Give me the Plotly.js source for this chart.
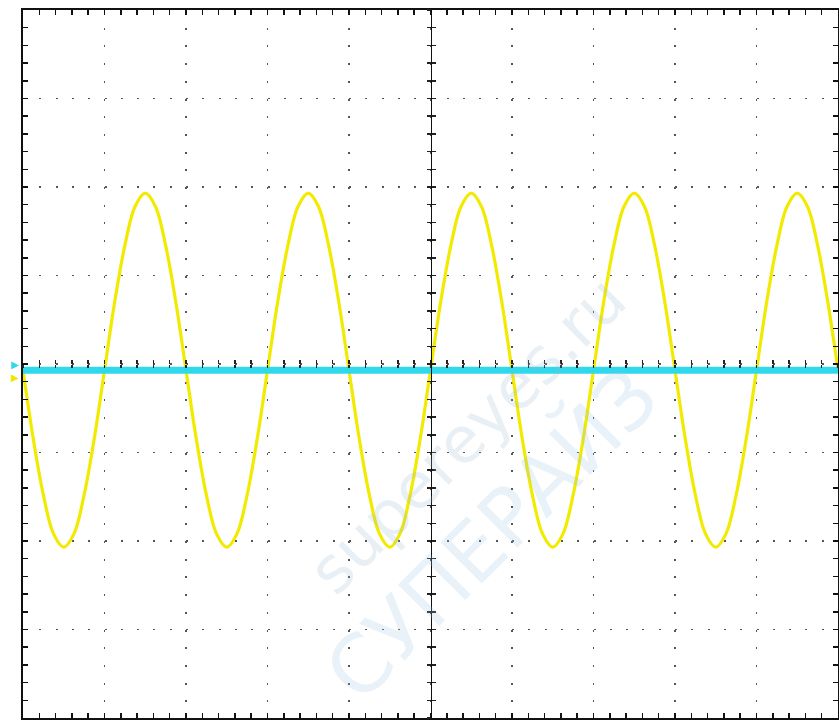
<!DOCTYPE html>
<html>
<head>
<meta charset="utf-8">
<script src="https://cdn.plot.ly/plotly-3.0.1.min.js"></script>
<style>html,body{margin:0;padding:0;background:#fff;}#chart{width:839px;height:722px;}</style>
</head>
<body>
<div id="chart"></div>
<script>
// Screen in divisions: 10 horizontal x 8 vertical, centre at (0,0)
var sampleStart = -5;      // first sample (div)
var sampleStep = 0.125;    // sample spacing (div)

// Channel 1 (yellow), in divisions
var ch1Values = [
  -0.07, -0.84, -1.48, -1.92, -2.07, -1.92, -1.48, -0.84, -0.07, 0.70, 1.34, 1.78, 1.93, 1.78, 1.34, 0.70,
  -0.07, -0.84, -1.48, -1.92, -2.07, -1.92, -1.48, -0.84, -0.07, 0.70, 1.34, 1.78, 1.93, 1.78, 1.34, 0.70,
  -0.07, -0.84, -1.48, -1.92, -2.07, -1.92, -1.48, -0.84, -0.07, 0.70, 1.34, 1.78, 1.93, 1.78, 1.34, 0.70,
  -0.07, -0.84, -1.48, -1.92, -2.07, -1.92, -1.48, -0.84, -0.07, 0.70, 1.34, 1.78, 1.93, 1.78, 1.34, 0.70,
  -0.07, -0.84, -1.48, -1.92, -2.07, -1.92, -1.48, -0.84, -0.07, 0.70, 1.34, 1.78, 1.93, 1.78, 1.34, 0.70,
  -0.07
];

// Channel 2 (cyan) – flat trace just below centre
var ch2Times = [-5, -2.5, 0, 2.5, 5];
var ch2Values = [-0.07, -0.07, -0.07, -0.07, -0.07];

// Channel level markers at the left edge
var markerLevels = [-0.15, 0.0];
var markerColors = ['#f2e600', '#30d8ec'];

var watermarkTexts = ['supereyes.ru', 'СУПЕРАЙЗ'];

var traces = [
  {
    type: 'scatter', mode: 'lines',
    x0: sampleStart, dx: sampleStep, y: ch1Values,
    line: {color: '#f2ea00', width: 3.2, shape: 'spline', smoothing: 1},
    hoverinfo: 'skip', showlegend: false
  },
  {
    type: 'scatter', mode: 'lines',
    x: ch2Times, y: ch2Values,
    line: {color: '#30d8ec', width: 7},
    hoverinfo: 'skip', showlegend: false
  },
  {type: 'scatter', x: [null], y: [null], xaxis: 'x2', yaxis: 'y2', hoverinfo: 'skip', showlegend: false},
  {type: 'scatter', x: [null], y: [null], xaxis: 'x3', yaxis: 'y3', hoverinfo: 'skip', showlegend: false}
];

var baseAxis = {
  showticklabels: false, zeroline: false, fixedrange: true
};

var annotations = [
  {text: watermarkTexts[0], xref: 'paper', yref: 'paper', x: 0.545, y: 0.40, xanchor: 'center', yanchor: 'middle',
   showarrow: false, textangle: -45, font: {family: 'DejaVu Sans', size: 64, color: 'rgba(150,185,210,0.22)'}},
  {text: watermarkTexts[1], xref: 'paper', yref: 'paper', x: 0.575, y: 0.26, xanchor: 'center', yanchor: 'middle',
   showarrow: false, textangle: -45, font: {family: 'DejaVu Sans', size: 80, color: 'rgba(150,195,225,0.22)'}}
];
markerLevels.forEach(function (lv, i) {
  annotations.push({
    text: '▶', xref: 'paper', yref: 'y', x: 0, y: lv, xanchor: 'right', yanchor: 'middle',
    xshift: -2, showarrow: false, font: {family: 'DejaVu Sans', size: 10, color: markerColors[i]}
  });
});

var layout = {
  width: 839, height: 722,
  margin: {l: 23, r: 1, t: 10, b: 4, pad: 0},
  paper_bgcolor: '#ffffff', plot_bgcolor: '#ffffff',
  showlegend: false,
  xaxis: Object.assign({}, baseAxis, {
    range: [-5, 5], tick0: 0, dtick: 1,
    showgrid: true, gridcolor: '#555555', gridwidth: 1.6, griddash: '2px,15.7px',
    showline: true, linecolor: '#111111', linewidth: 2, mirror: 'ticks',
    ticks: 'inside', ticklen: 5, tickwidth: 1.5, tickcolor: '#111111',
    minor: {dtick: 0.2, tick0: 0, ticks: 'inside', ticklen: 5, tickwidth: 1.5, tickcolor: '#111111', showgrid: false}
  }),
  yaxis: Object.assign({}, baseAxis, {
    range: [-4, 4], tick0: 0, dtick: 1,
    showgrid: true, gridcolor: '#555555', gridwidth: 1.6, griddash: '2px,14.3px',
    showline: true, linecolor: '#111111', linewidth: 2, mirror: 'ticks',
    ticks: 'inside', ticklen: 5, tickwidth: 1.5, tickcolor: '#111111',
    minor: {dtick: 0.2, tick0: 0, ticks: 'inside', ticklen: 5, tickwidth: 1.5, tickcolor: '#111111', showgrid: false}
  }),
  // centre cross: ticks on both sides
  xaxis2: Object.assign({}, baseAxis, {
    overlaying: 'x', anchor: 'free', position: 0.5, range: [-5, 5],
    showgrid: false, showline: false, tick0: 0, dtick: 1,
    ticks: 'inside', ticklen: 4, tickwidth: 1.5, tickcolor: '#222222',
    minor: {dtick: 0.2, tick0: 0, ticks: 'inside', ticklen: 4, tickwidth: 1.5, tickcolor: '#222222', showgrid: false}
  }),
  xaxis3: Object.assign({}, baseAxis, {
    overlaying: 'x', anchor: 'free', position: 0.5, range: [-5, 5],
    showgrid: false, showline: false, tick0: 0, dtick: 1,
    ticks: 'outside', ticklen: 3, tickwidth: 1.5, tickcolor: '#222222',
    minor: {dtick: 0.2, tick0: 0, ticks: 'outside', ticklen: 3, tickwidth: 1.5, tickcolor: '#222222', showgrid: false}
  }),
  yaxis2: Object.assign({}, baseAxis, {
    overlaying: 'y', anchor: 'free', position: 0.5, range: [-4, 4],
    showgrid: false, showline: true, linecolor: '#111111', linewidth: 1.8, tick0: 0, dtick: 1,
    ticks: 'inside', ticklen: 4, tickwidth: 1.5, tickcolor: '#222222',
    minor: {dtick: 0.2, tick0: 0, ticks: 'inside', ticklen: 4, tickwidth: 1.5, tickcolor: '#222222', showgrid: false}
  }),
  yaxis3: Object.assign({}, baseAxis, {
    overlaying: 'y', anchor: 'free', position: 0.5, range: [-4, 4],
    showgrid: false, showline: false, tick0: 0, dtick: 1,
    ticks: 'outside', ticklen: 4, tickwidth: 1.5, tickcolor: '#222222',
    minor: {dtick: 0.2, tick0: 0, ticks: 'outside', ticklen: 4, tickwidth: 1.5, tickcolor: '#222222', showgrid: false}
  }),
  annotations: annotations
};

Plotly.newPlot('chart', traces, layout, {staticPlot: true, displayModeBar: false});
</script>
</body>
</html>
